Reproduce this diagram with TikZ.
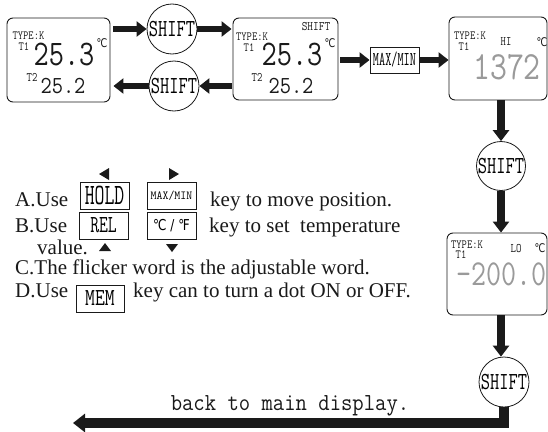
\documentclass[tikz,border=0pt]{standalone}
\usepackage{fontspec}
\setmainfont{Liberation Serif}
\newfontfamily\symf{DejaVu Sans}
\usetikzlibrary{arrows.meta,positioning}
\newcommand\lcd[3]{\scalebox{#2}[1]{\fontsize{#1}{#1}\selectfont\ttfamily #3}}
\newcommand\sym[3]{\scalebox{#2}[1]{\fontsize{#1}{#1}\selectfont\symf #3}}
\definecolor{ink}{HTML}{1A1A1A}
\definecolor{lcdgray}{HTML}{9A9A9A}
\tikzset{
  disp/.style={draw=ink, line width=0.9pt, rounded corners=6pt, inner sep=0pt},
  keybox/.style={draw=ink, line width=0.9pt, inner sep=0pt, minimum width=49pt, minimum height=27pt},
  shiftc/.style={draw=ink, line width=0.8pt, circle, inner sep=0pt, minimum size=50pt},
  lbl/.style={inner sep=0pt, text=ink},
  body/.style={inner sep=0pt, anchor=base west, font=\fontsize{21}{21}\selectfont, text=ink},
  harrow/.style={draw=ink, line width=6.5pt, -{Triangle[length=10pt,width=15pt]}},
  varrow/.style={draw=ink, line width=8pt, -{Triangle[length=11pt,width=16pt]}},
  barrow/.style={draw=ink, line width=10pt, line join=miter, -{Triangle[length=12pt,width=18pt]}},
  tri/.style={fill=ink, draw=none}
}
\begin{document}
\begin{tikzpicture}[x=1pt,y=-1pt]
\useasboundingbox (0,0) rectangle (548,431);
\fill[white] (0,0) rectangle (548,431);

% display boxes
\node[disp, minimum width=103pt, minimum height=84pt] (b1) at (58.5,60) {};
\node[disp, minimum width=105pt, minimum height=82pt] (b2) at (285.5,59) {};
\node[disp, minimum width=98pt, minimum height=83pt] (b3) at (498,58.5) {};
\node[disp, minimum width=100pt, minimum height=82pt] (b4) at (497,274) {};
\node[keybox, minimum height=26pt] (mm) at (394.5,60) {\lcd{19.6}{0.61}{MAX/MIN}};

% shift circles
\node[shiftc] (c1) at (172,29) {\lcd{24.5}{0.73}{SHIFT}};
\node[shiftc] (c2) at (174,86) {\lcd{24.5}{0.73}{SHIFT}};
\node[shiftc, minimum size=49pt] (c3) at (501,166) {\lcd{24.5}{0.73}{SHIFT}};
\node[shiftc] (c4) at (504,382) {\lcd{24.5}{0.73}{SHIFT}};

% box 1 contents
\node[lbl] (b1type) at (28.5,35.5) {\lcd{12.5}{0.82}{TYPE:K}};
\node[lbl] (b1t1) at (24,46.5) {\lcd{12.5}{0.82}{T1}};
\node[lbl] (b1v1) at (64,55) {\lcd{36}{0.82}{25.3}};
\node[lbl] (b1deg) at (102,43) {\sym{12}{0.8}{℃}};
\node[lbl] (b1t2) at (32,77) {\lcd{13}{0.8}{T2}};
\node[lbl] (b1v2) at (63,86) {\lcd{24.5}{0.89}{25.2}};

% box 2 contents
\node[lbl] (b2shift) at (316,27) {\lcd{13}{0.85}{SHIFT}};
\node[lbl] (b2type) at (252,36.5) {\lcd{12.5}{0.82}{TYPE:K}};
\node[lbl] (b2t1) at (249,47.5) {\lcd{12.5}{0.82}{T1}};
\node[lbl] (b2v1) at (292,55) {\lcd{36}{0.82}{25.3}};
\node[lbl] (b2deg) at (330,43) {\sym{12}{0.8}{℃}};
\node[lbl] (b2t2) at (257,77) {\lcd{13}{0.8}{T2}};
\node[lbl] (b2v2) at (291,86) {\lcd{24.5}{0.89}{25.2}};

% box 3 contents
\node[lbl] (b3type) at (470,35.5) {\lcd{12.5}{0.82}{TYPE:K}};
\node[lbl] (b3t1) at (464,46.5) {\lcd{12.5}{0.82}{T1}};
\node[lbl] (b3hi) at (506,42) {\lcd{13}{0.8}{HI}};
\node[lbl] (b3deg) at (542,42) {\sym{12}{0.8}{℃}};
\node[lbl, text=lcdgray] (b3v) at (507,67) {\lcd{40}{0.82}{1372}};

% box 4 contents
\node[lbl] (b4type) at (467,245) {\lcd{12.5}{0.82}{TYPE:K}};
\node[lbl] (b4t1) at (461,254.5) {\lcd{12.5}{0.82}{T1}};
\node[lbl] (b4lo) at (516,249) {\lcd{13}{0.8}{LO}};
\node[lbl] (b4deg) at (540,248) {\sym{12}{0.8}{℃}};
\node[lbl, text=lcdgray, anchor=west] (b4v) at (456,274) {\lcd{36.5}{0.8}{-200.0}};

% arrows
\draw[harrow, shorten <=3pt] (b1.east |- c1) -- (c1.west);
\draw[harrow, shorten >=1pt] (c1.east) -- (b2.west |- c1);
\draw[harrow, shorten <=1pt] (b2.west |- c2) -- (c2.east);
\draw[harrow, shorten >=3pt] (c2.west) -- (b1.east |- c2);
\draw[harrow, shorten <=2pt] (b2.east |- mm) -- (mm.west);
\draw[harrow] (mm.east) -- (b3.west |- mm);
\draw[varrow] (c3.north |- b3.south) -- (c3.north);
\draw[varrow] (c3.south) -- (c3.south |- b4.north);
\draw[varrow] (c3.north |- b4.south) -- (c3.north |- c4.north);
\coordinate (bend) at (c4.south |- 0,423);
\coordinate (endp) at (73,423);
\draw[barrow] (c4.south) -- (bend) -- (endp);
\node[lbl, anchor=base] (back) at (290,410) {\lcd{24.5}{0.9}{back to main display.}};

% keys
\node[keybox] (khold) at (104.5,195.5) {\lcd{29.5}{0.65}{HOLD}};
\node[keybox] (kmm) at (171.5,195.5) {\lcd{12.3}{0.94}{MAX/MIN}};
\node[keybox] (krel) at (103.5,225.5) {\lcd{24.5}{0.7}{REL}};
\node[keybox] (kcf) at (171.5,225.5) {\sym{15}{0.8}{℃ / ℉}};
\node[keybox, minimum width=48pt] (kmem) at (100,298.5) {\lcd{24.5}{0.78}{MEM}};

% triangles
\fill[tri] (99,174) -- (109,168) -- (109,180) -- cycle;
\fill[tri] (169,168) -- (169,180) -- (179,174) -- cycle;
\fill[tri] (99,251) -- (111,251) -- (105,243) -- cycle;
\fill[tri] (166,244) -- (178,244) -- (172,252) -- cycle;

% body text
\node[body] (la) at (15,206) {A.Use};
\node[body] (la2) at (210,206) {key to move position.};
\node[body] (lb) at (15,232) {B.Use};
\node[body] (lb2) at (209,232) {key to set\ \ temperature};
\node[body] (lv) at (37,254) {value.};
\node[body] (lc) at (15,274) {C.The flicker word is the adjustable word.};
\node[body] (ld) at (15,297) {D.Use};
\node[body] (ld2) at (133,297) {key can to turn a dot ON or OFF.};
\end{tikzpicture}
\end{document}
